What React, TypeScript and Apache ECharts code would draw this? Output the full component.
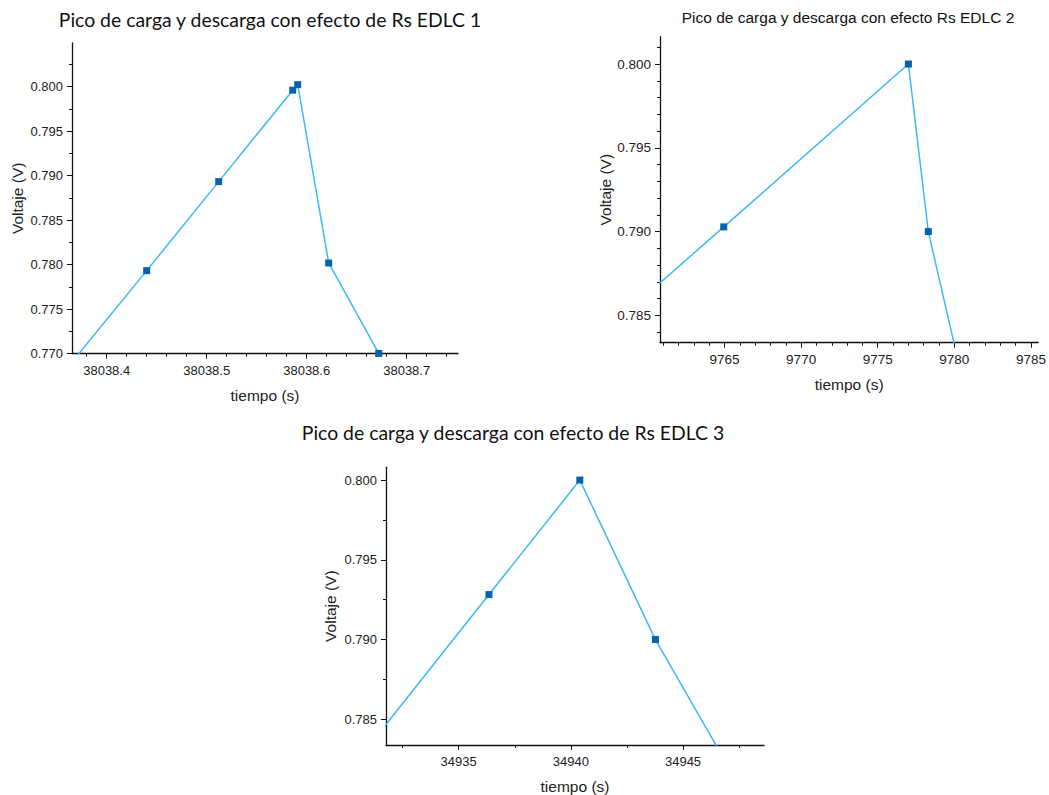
import React, { useEffect, useRef } from "react";
import * as echarts from "echarts";

// ---- Data ----
const t1 = [38038.367, 38038.44, 38038.512, 38038.586, 38038.591, 38038.622, 38038.672];
const v1 = [0.7693, 0.77933, 0.78933, 0.7996, 0.80022, 0.78019, 0.77003];

const t2 = [9752.9, 9764.95, 9777.0, 9778.3, 9781.3];
const v2 = [0.7806, 0.79028, 0.8, 0.79, 0.7781];

const t3 = [34930.0, 34936.35, 34940.4, 34943.77, 34947.2];
const v3 = [0.78156, 0.79282, 0.8, 0.79, 0.7816];

const titles = [
  "Pico de carga y descarga con efecto de Rs EDLC 1",
  "Pico de carga y descarga con efecto Rs EDLC 2",
  "Pico de carga y descarga con efecto de Rs EDLC 3",
];
const xName = "tiempo (s)";
const yName = "Voltaje (V)";

// tick labels
const xMajor1 = [38038.4, 38038.5, 38038.6, 38038.7];
const yMajor1 = [0.77, 0.775, 0.78, 0.785, 0.79, 0.795, 0.8];
const xMajor2 = [9765, 9770, 9775, 9780, 9785];
const yMajor2 = [0.785, 0.79, 0.795, 0.8];
const xMajor3 = [34935, 34940, 34945];
const yMajor3 = [0.785, 0.79, 0.795, 0.8];

// axis ranges
const xRange1 = [38038.3653, 38038.7513];
const yRange1 = [0.77, 0.8049];
const xRange2 = [9760.79, 9785.47];
const yRange2 = [0.78337, 0.80163];
const xRange3 = [34931.76, 34948.61];
const yRange3 = [0.78339, 0.8008];

function steps(lo: number, hi: number, step: number, dec: number): number[] {
  const out: number[] = [];
  const n0 = Math.ceil(lo / step - 1e-9);
  const n1 = Math.floor(hi / step + 1e-9);
  for (let n = n0; n <= n1; n++) out.push(Number((n * step).toFixed(dec)));
  return out;
}

const LINE = "#3DB8F3";
const MARK = "#0562AC";
const AXIS = "#111";
const FONT = "'Liberation Sans', Arial, sans-serif";

export default function App() {
  const ref = useRef<HTMLDivElement>(null);
  useEffect(() => {
    if (!ref.current) return;
    const chart = echarts.init(ref.current, undefined, { renderer: "svg" });

    const grids = [
      { left: 72, top: 43, width: 386, height: 310.7 },
      { left: 660, top: 36.7, width: 380, height: 306 },
      { left: 386, top: 467.3, width: 378, height: 277.7 },
    ];
    const xr = [xRange1, xRange2, xRange3];
    const yr = [yRange1, yRange2, yRange3];
    const xm = [xMajor1, xMajor2, xMajor3];
    const ym = [yMajor1, yMajor2, yMajor3];
    const xMinorStep = [0.02, 1, 2.5];
    const yMinorStep = [0.0025, 0.001, 0.0025];
    const xDec = [1, 0, 0];
    const labelSize = [13, 13.5, 13];
    const nameGapX = [34, 34, 33];
    const nameGapY = [47, 47, 48];

    const xAxis: any[] = [];
    const yAxis: any[] = [];
    for (let i = 0; i < 3; i++) {
      xAxis.push({
        type: "value",
        gridIndex: i,
        min: xr[i][0],
        max: xr[i][1],
        position: "bottom",
        splitLine: { show: false },
        axisLine: { show: true, onZero: false, lineStyle: { color: AXIS, width: 1.3 } },
        axisTick: { show: true, customValues: xm[i], length: 5, lineStyle: { color: AXIS, width: 1 } },
        axisLabel: {
          customValues: xm[i],
          margin: 10,
          fontFamily: FONT,
          fontSize: labelSize[i],
          color: "#222",
          formatter: (v: number) => v.toFixed(xDec[i]),
        },
        name: xName,
        nameLocation: "middle",
        nameGap: nameGapX[i],
        nameTextStyle: { fontFamily: FONT, fontSize: 15.5, color: "#222", verticalAlign: "top" },
      });
      xAxis.push({
        type: "value",
        gridIndex: i,
        min: xr[i][0],
        max: xr[i][1],
        position: "bottom",
        splitLine: { show: false },
        axisLine: { show: false, onZero: false },
        axisTick: {
          show: true,
          customValues: steps(xr[i][0], xr[i][1], xMinorStep[i], 4).filter(
            (v) => !xm[i].some((m) => Math.abs(m - v) < 1e-6)
          ),
          length: 3,
          lineStyle: { color: AXIS, width: 1 },
        },
        axisLabel: { show: false },
      });
      yAxis.push({
        type: "value",
        gridIndex: i,
        min: yr[i][0],
        max: yr[i][1],
        position: "left",
        splitLine: { show: false },
        axisLine: { show: true, onZero: false, lineStyle: { color: AXIS, width: 1.3 } },
        axisTick: { show: true, customValues: ym[i], length: 5, lineStyle: { color: AXIS, width: 1 } },
        axisLabel: {
          customValues: ym[i],
          margin: 9,
          fontFamily: FONT,
          fontSize: labelSize[i],
          color: "#222",
          formatter: (v: number) => v.toFixed(3),
        },
        name: yName,
        nameLocation: "middle",
        nameGap: nameGapY[i],
        nameTextStyle: { fontFamily: FONT, fontSize: 15.5, color: "#222" },
      });
      yAxis.push({
        type: "value",
        gridIndex: i,
        min: yr[i][0],
        max: yr[i][1],
        position: "left",
        splitLine: { show: false },
        axisLine: { show: false, onZero: false },
        axisTick: {
          show: true,
          customValues: steps(yr[i][0], yr[i][1], yMinorStep[i], 5).filter(
            (v) => !ym[i].some((m) => Math.abs(m - v) < 1e-7)
          ),
          length: 3,
          lineStyle: { color: AXIS, width: 1 },
        },
        axisLabel: { show: false },
      });
    }

    const data = [
      t1.map((t, k) => [t, v1[k]]),
      t2.map((t, k) => [t, v2[k]]),
      t3.map((t, k) => [t, v3[k]]),
    ];

    const series = data.map((d, i) => ({
      type: "line",
      xAxisIndex: i * 2,
      yAxisIndex: i * 2,
      data: d,
      clip: true,
      symbol: "rect",
      symbolSize: 7,
      showAllSymbol: true,
      lineStyle: { color: LINE, width: 1.5 },
      itemStyle: { color: MARK },
      emphasis: { disabled: true },
    }));

    chart.setOption({
      animation: false,
      backgroundColor: "#fff",
      grid: grids,
      xAxis,
      yAxis,
      series,
      graphic: [
        {
          type: "text",
          x: 270,
          y: 19,
          style: {
            text: titles[0],
            font: "19.4px Lato, 'Noto Sans', sans-serif",
            fill: "#111",
            textAlign: "center",
            textVerticalAlign: "middle",
          },
        },
        {
          type: "text",
          x: 848,
          y: 17,
          style: {
            text: titles[1],
            font: "15.5px 'Liberation Sans', Arial, sans-serif",
            fill: "#111",
            textAlign: "center",
            textVerticalAlign: "middle",
          },
        },
        {
          type: "text",
          x: 513,
          y: 432,
          style: {
            text: titles[2],
            font: "19.4px Lato, 'Noto Sans', sans-serif",
            fill: "#111",
            textAlign: "center",
            textVerticalAlign: "middle",
          },
        },
      ],
    });
    return () => chart.dispose();
  }, []);
  return (
    <div
      ref={ref}
      style={{ position: "absolute", left: 0, top: 0, width: 1049, height: 795 }}
    />
  );
}
